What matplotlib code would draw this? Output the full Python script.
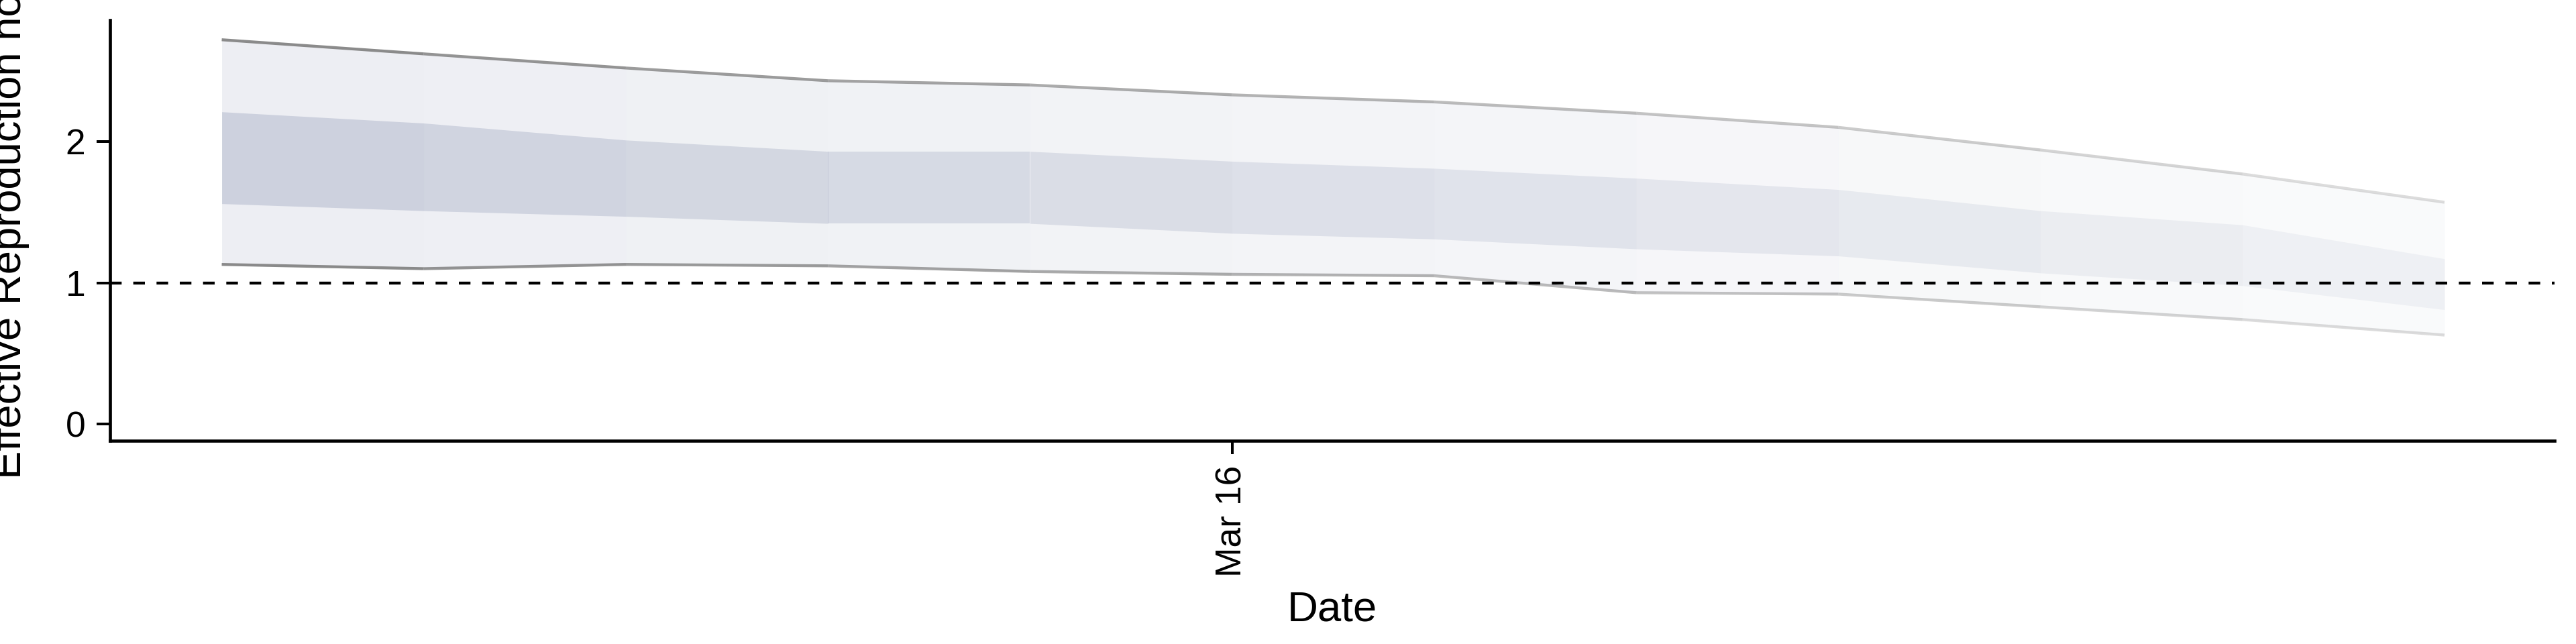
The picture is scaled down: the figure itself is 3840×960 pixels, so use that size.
import matplotlib
matplotlib.use("Agg")
import matplotlib.pyplot as plt
import matplotlib.dates as mdates
import numpy as np
import pandas as pd

# estimates
dates = pd.date_range("2020-03-11", "2020-03-22", freq="D")
upper_90 = [2.72, 2.62, 2.52, 2.43, 2.40, 2.33, 2.28, 2.20, 2.10, 1.94, 1.77, 1.57]
upper_50 = [2.21, 2.13, 2.01, 1.93, 1.93, 1.86, 1.81, 1.74, 1.66, 1.51, 1.41, 1.17]
lower_50 = [1.56, 1.51, 1.47, 1.42, 1.42, 1.35, 1.31, 1.24, 1.19, 1.07, 0.98, 0.81]
lower_90 = [1.13, 1.10, 1.13, 1.12, 1.08, 1.06, 1.05, 0.93, 0.92, 0.83, 0.74, 0.63]

plt.rcParams['font.family'] = ['Liberation Sans', 'DejaVu Sans']

fig = plt.figure(figsize=(16, 4), dpi=240)
ax = fig.add_axes([0.0427, 0.316, 0.949, 0.653])

x = mdates.date2num(dates)
n = len(x) - 1
band = np.array([0.36, 0.42, 0.58])
for i in range(n):
    a = 1.0 - 0.7 * i / (n - 1)   # confidence fades towards the end
    sl = slice(i, i + 2)
    ax.fill_between(x[sl], lower_90[sl], upper_90[sl], color=band, alpha=0.11 * a, lw=0)
    ax.fill_between(x[sl], lower_50[sl], upper_50[sl], color=band, alpha=0.22 * a, lw=0)
    ax.plot(x[sl], upper_90[sl], color="#7f7f7f", alpha=0.9 * a, lw=1.3, solid_capstyle="butt")
    ax.plot(x[sl], lower_90[sl], color="#7f7f7f", alpha=0.9 * a, lw=1.3, solid_capstyle="butt")

ax.axhline(1, color="black", ls=(0, (4, 4)), lw=1.3)

ax.set_xlim(x[0] - 0.553, x[-1] + 0.545)
ax.set_ylim(-0.116, 2.86)
ax.set_yticks([0, 1, 2])
ax.set_xticks([mdates.date2num(pd.Timestamp("2020-03-16"))])
ax.set_xticklabels(["Mar 16"], rotation=90)
ax.tick_params(labelsize=16, length=6, width=1.2, color="black", pad=5)
for s in ["top", "right"]:
    ax.spines[s].set_visible(False)
for s in ["left", "bottom"]:
    ax.spines[s].set_linewidth(1.4)
ax.set_xlabel("Date", fontsize=19, labelpad=6)
ax.set_ylabel("Effective Reproduction no.", fontsize=19)
ax.yaxis.set_label_coords(-0.033, 0.5)

fig.savefig("out.png", dpi=240)
